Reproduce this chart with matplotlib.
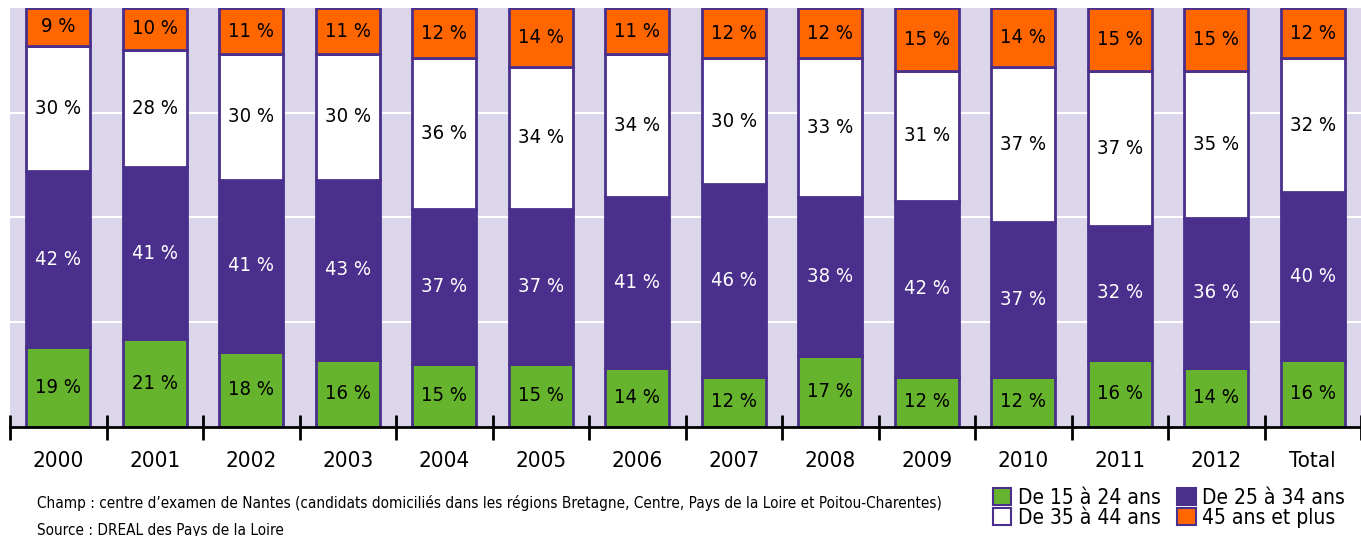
import numpy as np
import matplotlib.pyplot as plt
from matplotlib.patches import Patch

plt.rcParams['font.family'] = ['DejaVu Sans']
plt.rcParams['font.stretch'] = 'condensed'

categories = ['2000', '2001', '2002', '2003', '2004', '2005', '2006',
              '2007', '2008', '2009', '2010', '2011', '2012', 'Total']
age_15_24 = [19, 21, 18, 16, 15, 15, 14, 12, 17, 12, 12, 16, 14, 16]
age_25_34 = [42, 41, 41, 43, 37, 37, 41, 46, 38, 42, 37, 32, 36, 40]
age_35_44 = [30, 28, 30, 30, 36, 34, 34, 30, 33, 31, 37, 37, 35, 32]
age_45p = [9, 10, 11, 11, 12, 14, 11, 12, 12, 15, 14, 15, 15, 12]

series = [('De 15 à 24 ans', age_15_24, '#66b32e', 'black'),
          ('De 25 à 34 ans', age_25_34, '#4a2f8c', 'white'),
          ('De 35 à 44 ans', age_35_44, '#ffffff', 'black'),
          ('45 ans et plus', age_45p, '#ff6600', 'black')]
edge = '#4a2f8c'

fig = plt.figure(figsize=(13.61, 5.36), dpi=100)
ax = fig.add_axes([10 / 1361, 1 - 427 / 536, 1351 / 1361, 419 / 536])
ax.set_facecolor('#dbd6ea')

x = np.arange(len(categories))
bottom = np.zeros(len(categories))
for name, vals, col, tcol in series:
    vals = np.array(vals)
    ax.bar(x, vals, 0.66, bottom=bottom, color=col, edgecolor=edge,
           linewidth=2, zorder=3)
    for xi, b, v in zip(x, bottom, vals):
        ax.text(xi, b + v / 2, f'{v} %', ha='center', va='center',
                fontsize=14.5, color=tcol, zorder=4)
    bottom += vals

ax.set_xlim(-0.5, len(categories) - 0.5)
ax.set_ylim(0, 100)
ax.set_yticks([25, 50, 75])
ax.yaxis.grid(True, color='white', linewidth=1.5, zorder=0)
ax.tick_params(axis='y', length=0, labelleft=False)
for s in ['top', 'right', 'left']:
    ax.spines[s].set_visible(False)
ax.spines['bottom'].set_linewidth(2)
ax.spines['bottom'].set_zorder(5)

ax.set_xticks(x)
ax.set_xticklabels(categories, fontsize=16)
ax.set_xticks(np.arange(len(categories) + 1) - 0.5, minor=True)
ax.tick_params(axis='x', which='major', length=0, pad=17)
ax.tick_params(axis='x', which='minor', direction='inout', length=18, width=2)

fig.text(37 / 1361, 1 - 503 / 536,
         'Champ : centre d\u2019examen de Nantes (candidats domiciliés dans les régions Bretagne, Centre, Pays de la Loire et Poitou-Charentes)',
         fontsize=11, va='center')
fig.text(37 / 1361, 1 - 531 / 536, 'Source : DREAL des Pays de la Loire',
         fontsize=11, va='center')

handles = [Patch(facecolor=c, edgecolor=edge, linewidth=1.5, label=n)
           for n, v, c, t in series]
# order rows: 15-24, 25-34 / 35-44, 45+
order = [handles[0], handles[2], handles[1], handles[3]]
fig.legend(handles=order, ncol=2, loc='center right',
           bbox_to_anchor=(0.999, 1 - 508 / 536), frameon=False,
           fontsize=15, handlelength=0.9, handleheight=0.9,
           handletextpad=0.3, columnspacing=0.8, labelspacing=0.0,
           borderpad=0.2)

fig.savefig('out.png', dpi=100)
